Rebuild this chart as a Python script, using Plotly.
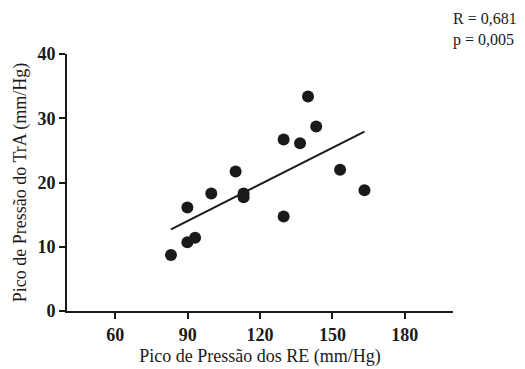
import numpy as np
import plotly.graph_objects as go

re_peak = [83.1, 89.9, 89.9, 93.1, 99.8, 109.9, 113.2, 113.2, 129.8, 129.8, 136.6, 139.9, 143.3, 153.2, 163.3]
tra_peak = [8.7, 16.1, 10.7, 11.4, 18.3, 21.7, 18.3, 17.7, 26.7, 14.7, 26.1, 33.4, 28.7, 22.0, 18.8]
x_ticks = [60, 90, 120, 150, 180]
y_ticks = [0, 10, 20, 30, 40]
stats_lines = ["R = 0,681", "p = 0,005"]

x = np.array(re_peak)
y = np.array(tra_peak)
slope, intercept = np.polyfit(x, y, 1)
fx = np.array([x.min(), x.max()])
fy = slope * fx + intercept

fig = go.Figure()
fig.add_trace(go.Scatter(x=fx, y=fy, mode="lines", line=dict(color="#1a1a1a", width=2), showlegend=False))
fig.add_trace(go.Scatter(x=re_peak, y=tra_peak, mode="markers",
                         marker=dict(color="#1a1a1a", size=12), showlegend=False))

font = "Liberation Serif"
W, H = 525, 369
L, R, T, B = 59, 80, 46, 66
fig.update_layout(
    width=W, height=H,
    margin=dict(l=L, r=R, t=T, b=B, autoexpand=False),
    plot_bgcolor="white", paper_bgcolor="white",
    font=dict(family=font, color="#1a1a1a"),
    xaxis=dict(range=[40, 200], tickvals=x_ticks, ticks="outside", ticklen=6, tickwidth=2,
               tickcolor="#1a1a1a", showline=True, linewidth=2, linecolor="#1a1a1a",
               showgrid=False, zeroline=False, automargin=False,
               tickfont=dict(family=font, size=18, color="#1a1a1a", weight="bold"),
               title=dict(text="Pico de Pressão dos RE (mm/Hg)", font=dict(family=font, size=18), standoff=6)),
    yaxis=dict(range=[0, 40], tickvals=y_ticks, ticks="outside", ticklen=6, tickwidth=2,
               tickcolor="#1a1a1a", showline=True, linewidth=2, linecolor="#1a1a1a",
               showgrid=False, zeroline=False, automargin=False,
               tickfont=dict(family=font, size=18, color="#1a1a1a", weight="bold"),
               title=dict(text="Pico de Pressão do TrA (mm/Hg)", font=dict(family=font, size=18), standoff=6)),
)
pw, ph = W - L - R, H - T - B
ann_left, ann_top = 443, 0  # figure pixels
fig.update_layout(annotations=[
    dict(text="<br>".join(stats_lines), x=(ann_left - L) / pw, y=1 - (ann_top - T) / ph,
         xref="paper", yref="paper", xanchor="left", yanchor="top", align="left", showarrow=False,
         font=dict(family=font, size=16, color="#1a1a1a"))
])
fig.write_html("out.html")
